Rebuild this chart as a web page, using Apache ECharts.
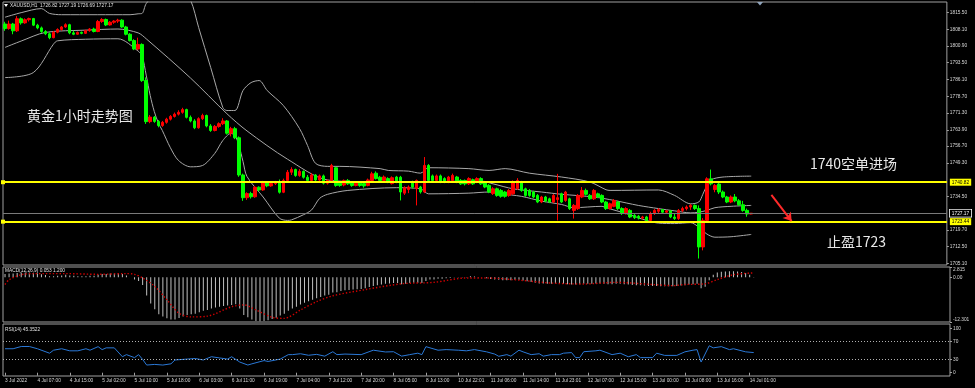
<!DOCTYPE html>
<html><head><meta charset="utf-8">
<script src="https://cdn.jsdelivr.net/npm/echarts@6/dist/echarts.min.js"></script>
<style>html,body{margin:0;padding:0;background:#000;}#c{width:975px;height:388px;}</style>
</head><body><div id="c"></div>
<script>
// ---- data ----
const opens = [1810.5,1808.5,1810.5,1807.5,1812.8,1811.0,1812.4,1812.9,1810.0,1808.8,
1807.2,1806.2,1804.5,1806.9,1808.1,1809.2,1810.2,1806.6,1806.0,1806.8,
1806.4,1807.6,1808.3,1807.2,1811.6,1812.5,1810.1,1811.3,1811.8,1812.2,
1809.2,1806.0,1803.2,1799.5,1801.5,1785.6,1767.5,1769.5,1767.6,1765.8,
1767.2,1768.6,1769.8,1770.8,1771.6,1772.8,1769.4,1767.8,1764.8,1768.8,
1770.2,1765.6,1763.6,1765.4,1766.6,1767.8,1762.4,1764.4,1760.4,1744.0,
1734.0,1735.8,1734.4,1738.6,1737.4,1740.6,1739.2,1740.2,1740.8,1736.4,
1741.6,1745.2,1746.4,1743.8,1745.6,1743.0,1741.6,1744.0,1741.8,1743.6,
1740.4,1741.6,1747.2,1740.4,1739.6,1741.6,1740.6,1739.4,1740.4,1740.2,
1739.4,1741.6,1744.8,1743.0,1741.6,1742.4,1740.2,1743.1,1743.0,1736.0,
1737.6,1740.9,1738.0,1738.7,1736.5,1748.2,1743.6,1741.6,1743.6,1742.4,
1740.9,1741.6,1743.1,1741.6,1741.6,1740.1,1741.9,1740.9,1742.4,1740.9,
1739.4,1735.8,1737.9,1737.2,1736.5,1735.0,1735.7,1738.0,1740.9,1737.9,
1737.2,1736.5,1735.0,1732.1,1734.3,1733.5,1732.1,1733.2,1735.7,1732.8,
1733.5,1728.4,1729.2,1734.3,1737.2,1735.0,1733.5,1735.7,1735.0,1732.1,
1729.2,1730.2,1732.1,1729.2,1727.0,1728.4,1726.2,1725.8,1725.0,1725.5,
1724.0,1727.0,1728.0,1728.8,1727.6,1728.2,1725.5,1724.8,1728.4,1729.2,
1729.9,1730.6,1729.2,1712.3,1724.0,1742.3,1737.6,1740.0,1736.5,1734.3,
1732.1,1734.3,1732.6,1730.9,1728.4,1726.82];
const highs = [1811.5,1812.0,1811.0,1814.0,1813.4,1813.0,1813.3,1813.2,1810.6,1809.4,
1807.8,1806.8,1807.4,1808.6,1809.6,1810.8,1810.6,1807.6,1807.2,1807.2,
1808.0,1808.7,1808.9,1812.3,1813.1,1812.9,1811.8,1812.2,1812.8,1812.6,
1809.7,1806.5,1803.8,1804.5,1802.0,1787.0,1770.4,1770.0,1768.2,1767.8,
1769.2,1770.4,1771.5,1772.5,1773.6,1773.2,1770.2,1768.6,1769.4,1771.0,
1770.6,1766.4,1766.0,1767.2,1769.0,1768.2,1765.2,1765.2,1761.0,1744.6,
1736.4,1736.6,1739.2,1739.0,1741.4,1741.0,1740.8,1741.4,1742.0,1742.4,
1746.2,1747.4,1746.8,1746.6,1746.0,1744.0,1744.8,1744.4,1744.2,1744.2,
1742.0,1748.9,1747.6,1741.0,1742.0,1742.2,1741.2,1741.0,1741.0,1740.8,
1742.4,1745.4,1745.6,1743.6,1743.8,1743.0,1743.4,1743.6,1743.6,1739.0,
1739.4,1741.5,1742.0,1739.2,1751.9,1748.8,1744.2,1744.2,1744.2,1743.0,
1743.6,1744.6,1743.6,1742.2,1742.0,1743.0,1742.4,1743.0,1743.0,1741.4,
1740.0,1738.6,1738.4,1737.8,1737.0,1737.8,1741.6,1742.6,1741.4,1738.4,
1737.8,1737.0,1735.6,1734.8,1734.8,1734.0,1735.6,1744.5,1736.2,1737.0,
1734.0,1731.2,1735.6,1738.7,1738.0,1735.6,1737.8,1736.2,1735.5,1732.6,
1731.8,1733.4,1732.6,1729.8,1729.8,1729.0,1726.8,1726.4,1726.0,1726.0,
1727.8,1729.0,1729.4,1729.0,1728.6,1728.6,1726.8,1729.0,1730.0,1730.6,
1731.2,1731.0,1730.6,1725.0,1743.0,1746.4,1740.0,1740.6,1737.2,1734.8,
1735.0,1735.6,1733.4,1732.6,1729.2,1727.19];
const lows = [1807.5,1808.0,1806.0,1807.0,1810.2,1810.6,1811.6,1809.6,1808.2,1806.6,
1805.6,1803.8,1804.2,1806.4,1807.6,1808.8,1806.0,1805.6,1805.8,1806.0,
1806.1,1807.1,1806.8,1806.9,1811.0,1809.6,1809.8,1810.6,1811.0,1808.8,
1805.5,1802.8,1799.0,1799.0,1785.0,1766.5,1766.8,1767.0,1765.0,1765.2,
1766.6,1768.0,1769.3,1770.2,1771.0,1768.9,1767.2,1764.2,1764.4,1768.2,
1765.0,1763.0,1763.2,1764.8,1766.0,1761.8,1761.0,1759.8,1743.2,1732.6,
1733.0,1733.6,1734.0,1736.8,1737.0,1738.6,1738.8,1739.6,1735.8,1736.0,
1741.0,1744.0,1743.2,1743.2,1742.4,1741.0,1741.2,1741.2,1741.4,1739.8,
1739.8,1741.0,1738.8,1738.8,1739.0,1739.6,1738.8,1739.0,1738.8,1738.4,
1739.0,1741.2,1742.0,1741.0,1741.2,1740.4,1739.8,1740.4,1732.8,1735.2,
1736.0,1738.0,1730.6,1735.8,1736.0,1741.0,1741.0,1741.0,1740.4,1740.4,
1740.4,1741.2,1740.4,1739.6,1739.4,1739.6,1739.6,1740.4,1739.6,1738.2,
1736.0,1735.2,1734.4,1734.0,1734.0,1734.4,1735.2,1737.4,1736.6,1734.4,
1734.4,1733.8,1731.6,1731.6,1732.0,1731.6,1731.6,1724.0,1731.6,1732.2,
1728.6,1724.8,1728.6,1733.8,1735.0,1733.0,1733.0,1733.8,1731.6,1728.6,
1728.8,1729.8,1728.6,1726.4,1726.6,1725.0,1724.6,1724.4,1724.4,1723.4,
1723.4,1726.4,1727.0,1727.0,1727.0,1725.0,1724.2,1724.2,1727.6,1728.4,
1728.6,1728.6,1707.2,1710.8,1723.4,1739.4,1736.4,1735.6,1733.8,1731.6,
1731.6,1732.0,1730.4,1727.8,1725.6,1726.69];
const closes = [1808.5,1810.5,1807.5,1812.8,1811.0,1812.4,1812.9,1810.0,1808.8,1807.2,
1806.2,1804.5,1806.9,1808.1,1809.2,1810.2,1806.6,1806.0,1806.8,1806.4,
1807.6,1808.3,1807.2,1811.6,1812.5,1810.1,1811.3,1811.8,1812.2,1809.2,
1806.0,1803.2,1799.5,1801.5,1785.6,1767.5,1769.5,1767.6,1765.8,1767.2,
1768.6,1769.8,1770.8,1771.6,1772.8,1769.4,1767.8,1764.8,1768.8,1770.2,
1765.6,1763.6,1765.4,1766.6,1767.8,1762.4,1764.4,1760.4,1744.0,1734.0,
1735.8,1734.4,1738.6,1737.4,1740.6,1739.2,1740.2,1740.8,1736.4,1741.6,
1745.2,1746.4,1743.8,1745.6,1743.0,1741.6,1744.0,1741.8,1743.6,1740.4,
1741.6,1748.2,1739.4,1739.4,1741.6,1740.1,1739.4,1740.4,1739.4,1739.2,
1741.8,1744.5,1742.4,1741.6,1743.1,1741.0,1742.8,1740.9,1736.5,1738.4,
1738.7,1738.7,1741.6,1736.5,1748.2,1741.6,1741.6,1743.6,1740.9,1740.9,
1743.1,1743.8,1740.9,1740.1,1740.1,1742.4,1740.1,1742.4,1740.1,1738.7,
1736.5,1737.9,1735.0,1734.6,1734.6,1737.2,1740.9,1741.6,1737.2,1735.0,
1735.0,1734.3,1732.1,1734.3,1732.5,1732.1,1735.0,1734.0,1732.1,1736.5,
1729.2,1730.6,1735.0,1737.2,1735.5,1733.5,1737.2,1734.3,1732.1,1729.2,
1731.3,1732.8,1729.2,1727.0,1729.2,1725.5,1725.2,1725.0,1725.5,1724.0,
1727.0,1728.4,1728.8,1727.6,1728.2,1725.5,1724.8,1728.4,1729.2,1729.9,
1730.6,1729.2,1712.3,1724.0,1742.3,1740.1,1739.4,1736.5,1734.3,1732.1,
1734.3,1732.6,1730.9,1728.4,1726.8,1727.17];

const bbUpper = [[0,1813.5],[4,1815.5],[9,1817.3],[11,1815.2],[14,1814.6],[23,1814.6],[31,1814.6],[33,1815.0],[34,1815.2],[35,1819.5],[37,1823],[41,1826],[44,1824.5],[46,1821],[48,1809],[51,1791.3],[54,1773.7],[55,1772.4],[57,1772.4],[59,1781.2],[61,1784.7],[63,1785.6],[65,1781.2],[69,1774.6],[73,1764.5],[75,1757],[77,1749.1],[80,1747.8],[83,1747.8],[93,1746.8],[95,1746],[100,1745.7],[103,1744.8],[105,1747.2],[115,1746.8],[120,1746],[124,1746.8],[130,1744.8],[138,1743.1],[145,1740.9],[149,1737.5],[150,1737.2],[162,1737.4],[166,1735],[170,1731.3],[172,1732.1],[173,1735.5],[174,1739.4],[175,1741.9],[178,1743.1],[185,1743.5]];
const bbMiddle = [[0,1800.2],[4,1803],[10,1806.8],[20,1807.8],[28,1808.3],[33,1806.6],[35,1804],[46,1786.7],[55,1771],[60,1763.4],[70,1751],[80,1741.8],[90,1741],[100,1740.9],[110,1741.2],[118,1741.3],[121,1740.1],[126,1737.9],[133,1736.5],[138,1735.5],[146,1734.3],[151,1732.8],[157,1730.6],[162,1729.2],[166,1728.2],[170,1727.3],[172,1727.6],[174,1728.4],[176,1729.6],[180,1730.2],[185,1730.6]];
const bbLower = [[0,1786.9],[7,1789.1],[12,1801.6],[13,1803.1],[20,1803.8],[28,1804],[33,1798.6],[34,1796.4],[35,1788],[36,1779],[37,1772],[38,1767],[39,1763.6],[41,1756],[43,1750.4],[46,1747.6],[49,1748.2],[52,1753.5],[54,1759.2],[56,1762.3],[57,1761.5],[58,1757],[59,1750],[60,1743.3],[64,1734.3],[68,1725],[70,1724],[71,1724.2],[74,1726.5],[76,1728.6],[78,1733.7],[80,1735.5],[85,1737.2],[97,1738.4],[103,1737.9],[105,1735.7],[115,1736],[120,1736.5],[123,1735.7],[128,1734.6],[133,1732.5],[138,1731],[141,1729.6],[148,1730.2],[149,1729.6],[154,1727],[159,1724],[162,1722.8],[166,1722.6],[170,1723],[172,1721],[174,1718],[176,1716.6],[180,1716.8],[185,1717.8]];

const macdMain = [0.9,1.0,1.0,1.2,1.3,1.3,1.3,1.2,1.0,0.8,
0.6,0.3,0.3,0.4,0.5,0.7,0.5,0.4,0.3,0.3,
0.3,0.4,0.4,0.7,0.9,0.9,1.0,1.0,1.1,0.9,
0.5,0.0,-0.6,-1.0,-2.1,-5.0,-7.2,-8.8,-10.2,-10.8,
-11.3,-11.6,-11.6,-11.2,-10.8,-10.4,-10.2,-10.0,-9.6,-9.2,
-9.0,-8.6,-8.3,-8.1,-7.9,-7.8,-7.6,-7.4,-8.6,-10.4,
-11.0,-11.6,-12.0,-12.1,-12.0,-11.8,-11.5,-11.1,-10.5,-10.0,
-9.2,-8.6,-8.1,-7.5,-7.0,-6.6,-6.2,-5.8,-5.4,-5.0,
-4.8,-4.2,-4.1,-3.8,-3.6,-3.5,-3.4,-3.3,-3.2,-3.0,
-2.7,-2.4,-2.2,-2.0,-1.8,-1.7,-1.6,-1.6,-1.9,-1.8,
-1.6,-1.5,-1.5,-1.6,-1.0,-0.6,-0.6,-0.4,-0.4,-0.3,
-0.2,-0.1,0.1,0.1,0.1,0.3,0.2,0.1,0.0,-0.3,
-0.5,-0.6,-0.7,-0.8,-0.8,-0.8,-0.7,-0.7,-0.9,-1.1,
-1.3,-1.5,-1.7,-1.7,-1.8,-1.8,-1.7,-1.8,-1.8,-1.9,
-2.0,-2.0,-1.9,-1.8,-1.8,-1.8,-1.7,-1.7,-1.8,-1.9,
-1.9,-1.8,-1.8,-1.9,-2.0,-2.1,-2.2,-2.2,-2.3,-2.4,
-2.4,-2.4,-2.5,-2.5,-2.5,-2.5,-2.4,-2.3,-2.2,-2.0,
-1.9,-1.8,-3.0,-2.6,-0.8,0.7,1.3,1.5,1.6,1.65,
1.65,1.6,1.45,1.2,0.7,0.053];
const macdSignal = [[0,-2.0],[1,-0.7],[4,0.7],[7,1.0],[15,1.0],[23,0.8],[30,1.0],[32,0.8],[34,-0.2],[37,-2.5],[40,-6.2],[43,-9.9],[46,-10.9],[50,-10.7],[56,-8.1],[59,-7.6],[62,-9.0],[66,-11.0],[69,-11.3],[73,-9.0],[77,-6.7],[81,-5.1],[89,-3.4],[98,-1.8],[106,-1.4],[114,-0.2],[119,-0.2],[127,-0.8],[135,-1.6],[143,-1.85],[151,-1.4],[160,-2.0],[165,-2.3],[168,-2.0],[173,-1.8],[176,-0.65],[180,0.7],[185,1.2]];
const rsi14 = [[0,54],[2,54],[4,59],[6,59],[8,54],[11,44],[12,50.7],[14,54],[16,49.3],[18,49.3],[20,54],[21,50.7],[23,58.7],[24,52],[25,56],[27,56],[29,36],[30,40.7],[32,34],[33,40.7],[34,30],[35,17.3],[37,18.7],[39,17.3],[41,20],[42,28.7],[45,30.7],[47,32],[49,28.7],[51,36],[53,33.3],[55,30.7],[56,36],[58,24],[60,17.3],[61,20],[64,27.3],[65,25.3],[68,30.7],[70,40.7],[71,40.7],[73,42.7],[75,39.3],[77,41.3],[79,37.3],[81,47.3],[82,40.7],[84,42],[88,40.7],[91,50.7],[94,46.7],[96,47.3],[98,37.3],[100,40.7],[102,44],[103,40.7],[104,58.7],[107,50.7],[109,52],[112,50.7],[114,49.3],[116,52],[119,47],[121,42],[122,37],[124,40.7],[125,37.3],[127,50.7],[128,47],[130,40.7],[132,42.7],[133,37.3],[135,40.7],[137,40.7],[138,44],[140,45.3],[141,34],[142,34],[143,47.3],[146,49.3],[147,50.7],[150,40.7],[152,44],[154,36],[156,40.7],[157,34],[160,34],[161,44],[163,39],[166,39],[168,47],[170,50.7],[171,52],[172,24],[174,60.7],[175,56],[177,58.7],[179,52],[180,54],[183,47],[185,45.35]];

const timeLabels = ['3 Jul 2022','4 Jul 07:00','4 Jul 15:00','5 Jul 02:00','5 Jul 10:00','5 Jul 18:00','6 Jul 03:00','6 Jul 11:00','6 Jul 19:00','7 Jul 04:00','7 Jul 12:00','7 Jul 20:00','8 Jul 05:00','8 Jul 13:00','10 Jul 22:01','11 Jul 06:00','11 Jul 14:00','11 Jul 23:01','12 Jul 07:00','12 Jul 15:00','13 Jul 00:00','13 Jul 08:00','13 Jul 16:00','14 Jul 01:00'];
const priceTicks = [1815.5,1808.1,1800.9,1793.5,1786.1,1778.7,1771.3,1763.9,1756.7,1749.3,1734.5,1719.7,1712.5,1705.1];
const macdTicks = [-12.301, 0, 2.815];
const rsiTicks = [0, 30, 70, 100];
const entryLevel = 1740.82, targetLevel = 1723.44, lastPrice = 1727.17;
const arrowFrom = [190, 1735.2], arrowTo = [195, 1723.7];
const headerText = 'XAUUSD,H1  1726.82 1727.19 1726.69 1727.17';
const macdText = 'MACD(12,26,9) 0.053 1.200';
const rsiText = 'RSI(14) 45.3522';

// ---- build ----
const SLOTS = 234;
const LABEL_STEP = 8;
const cats = Array.from({length: SLOTS}, (_, i) => String(i));
const candleData = opens.map((o, i) => [o, closes[i], lows[i], highs[i]]);
const FONT = 'Liberation Sans';
const AX = '#a0a0a0', TXT = '#d8d8d8';
const isLabelIdx = (i) => i % LABEL_STEP === 0 && (i / LABEL_STEP) < timeLabels.length;

const chart = echarts.init(document.getElementById('c'), null, {renderer: 'canvas'});
const gridBase = {left: 3, width: 947, show: true, borderColor: AX, borderWidth: 1};
const xBase = {type: 'category', data: cats, boundaryGap: true, axisLine: {show: false}, axisTick: {show: false}, axisLabel: {show: false}, splitLine: {show: false}};
const yLab = {color: TXT, fontSize: 4.8, fontFamily: FONT};

chart.setOption({
  backgroundColor: '#000',
  animation: false,
  grid: [
    Object.assign({top: 2, height: 263}, gridBase),
    Object.assign({top: 267, height: 55}, gridBase),
    Object.assign({top: 324, height: 52}, gridBase)
  ],
  xAxis: [
    Object.assign({gridIndex: 0}, xBase),
    Object.assign({gridIndex: 1}, xBase),
    Object.assign({}, xBase, {gridIndex: 2,
      axisTick: {show: true, length: 3, alignWithLabel: true, interval: (i) => isLabelIdx(i), lineStyle: {color: AX}},
      axisLabel: {show: true, interval: (i) => isLabelIdx(i), formatter: (v, i) => isLabelIdx(i) ? timeLabels[i / LABEL_STEP] : '',
        align: 'left', color: TXT, fontSize: 4.8, fontFamily: FONT, margin: 2}})
  ],
  yAxis: [
    {type: 'value', gridIndex: 0, position: 'right', min: 1704.35, max: 1820.2, splitLine: {show: false}, axisLine: {show: false},
     axisTick: {show: true, length: 2, customValues: priceTicks, lineStyle: {color: AX}},
     axisLabel: Object.assign({show: true, margin: 3, customValues: priceTicks.concat([entryLevel, targetLevel, lastPrice]),
       formatter: function (v) {
         const s = v.toFixed(2);
         if (Math.abs(v - entryLevel) < 1e-6 || Math.abs(v - targetLevel) < 1e-6) return '{y|' + s + '}';
         if (Math.abs(v - lastPrice) < 1e-6) return '{w|' + s + '}';
         return s;
       },
       rich: {
         y: {backgroundColor: '#ffff00', color: '#000', fontSize: 4.8, fontFamily: FONT, padding: [1.5, 2, 0.5, 2]},
         w: {backgroundColor: '#000', borderColor: '#ffffff', borderWidth: 0.8, color: '#fff', fontSize: 4.8, fontFamily: FONT, padding: [1.5, 2, 0.5, 2]}
       }}, yLab)},
    {type: 'value', gridIndex: 1, position: 'right', min: -12.301, max: 2.815, splitLine: {show: false}, axisLine: {show: false},
     axisTick: {show: true, length: 2, customValues: macdTicks, lineStyle: {color: AX}},
     axisLabel: Object.assign({show: true, margin: 3, customValues: macdTicks,
       formatter: function (v) {
         if (v === 0) return '0.00';
         if (v > 0) return '{t|' + v.toFixed(3) + '}';
         return '{b|' + v.toFixed(3) + '}';
       },
       rich: {t: {color: TXT, fontSize: 4.8, fontFamily: FONT, padding: [6, 0, 0, 0]},
              b: {color: TXT, fontSize: 4.8, fontFamily: FONT, padding: [0, 0, 5, 0]}}}, yLab)},
    {type: 'value', gridIndex: 2, position: 'right', min: -7.4, max: 109.7, splitLine: {show: false}, axisLine: {show: false},
     axisTick: {show: true, length: 2, customValues: rsiTicks, lineStyle: {color: AX}},
     axisLabel: Object.assign({show: true, margin: 3, customValues: rsiTicks, formatter: (v) => String(v)}, yLab)}
  ],
  series: [
    {type: 'line', xAxisIndex: 0, yAxisIndex: 0, data: bbUpper, showSymbol: false, smooth: 0.3, z: 2, silent: true,
     lineStyle: {color: '#a8a8a8', width: 1},
     markLine: {silent: true, symbol: 'none', label: {show: false}, animation: false,
       data: [{yAxis: lastPrice, lineStyle: {color: '#7a7a7a', width: 1, type: 'solid'}}]}},
    {type: 'line', xAxisIndex: 0, yAxisIndex: 0, data: bbMiddle, showSymbol: false, smooth: 0.3, z: 2, silent: true, lineStyle: {color: '#a8a8a8', width: 1}},
    {type: 'line', xAxisIndex: 0, yAxisIndex: 0, data: bbLower, showSymbol: false, smooth: 0.3, z: 2, silent: true, lineStyle: {color: '#a8a8a8', width: 1}},
    {type: 'candlestick', xAxisIndex: 0, yAxisIndex: 0, data: candleData, barWidth: 3, z: 3, silent: true,
     itemStyle: {color: '#ff0000', color0: '#00ff00', borderColor: '#ff0000', borderColor0: '#00ff00', borderWidth: 1},
     markLine: {silent: true, symbol: ['rect', 'none'], symbolSize: 4, label: {show: false}, animation: false,
       data: [
         {yAxis: entryLevel, lineStyle: {color: '#ffff00', width: 2, type: 'solid'}, itemStyle: {color: '#ffff00'}},
         {yAxis: targetLevel, lineStyle: {color: '#ffff00', width: 2, type: 'solid'}, itemStyle: {color: '#ffff00'}},
         [{coord: arrowFrom, symbol: 'none', lineStyle: {color: '#ff2a2a', width: 2, type: 'solid'}},
          {coord: arrowTo, symbol: 'arrow', symbolSize: 8, itemStyle: {color: '#ff2a2a'}}]
       ]}},
    {type: 'bar', xAxisIndex: 1, yAxisIndex: 1, data: macdMain, barWidth: 1, silent: true, itemStyle: {color: '#c0c0c0'}},
    {type: 'line', xAxisIndex: 1, yAxisIndex: 1, data: macdSignal, showSymbol: false, smooth: 0.3, silent: true,
     lineStyle: {color: '#d00000', width: 1.4, type: [1.4, 2]}},
    {type: 'line', xAxisIndex: 2, yAxisIndex: 2, data: rsi14, showSymbol: false, silent: true,
     lineStyle: {color: '#2a78d6', width: 1},
     markLine: {silent: true, symbol: 'none', label: {show: false}, animation: false,
       lineStyle: {color: '#b0b0b0', width: 1, type: [1, 2]},
       data: [{yAxis: 70}, {yAxis: 30}]}}
  ],
  graphic: [
    {type: 'polygon', shape: {points: [[4, 4], [8, 4], [6, 7]]}, style: {fill: '#ffffff'}, silent: true},
    {type: 'polygon', shape: {points: [[757, 2], [763, 2], [760, 5.5]]}, style: {fill: '#8fa4bc'}, silent: true},
    {type: 'text', x: 10, y: 5.8, silent: true, style: {text: headerText, fill: '#e0e0e0', fontSize: 4.8, fontFamily: FONT, textVerticalAlign: 'middle'}},
    {type: 'text', x: 5, y: 270.7, silent: true, style: {text: macdText, fill: '#e0e0e0', fontSize: 4.8, fontFamily: FONT, textVerticalAlign: 'middle'}},
    {type: 'text', x: 5, y: 329.3, silent: true, style: {text: rsiText, fill: '#e0e0e0', fontSize: 4.8, fontFamily: FONT, textVerticalAlign: 'middle'}},
    {type: 'text', x: 27, y: 116, silent: true, style: {text: '黄金1小时走势图', fill: '#e8e8e8', fontSize: 14, fontFamily: 'Noto Sans CJK SC', textVerticalAlign: 'middle'}},
    {type: 'text', x: 810, y: 163.5, silent: true, style: {text: '1740空单进场', fill: '#e8e8e8', fontSize: 14, fontFamily: 'Noto Sans CJK SC', textVerticalAlign: 'middle'}},
    {type: 'text', x: 827, y: 241.7, silent: true, style: {text: '止盈1723', fill: '#e8e8e8', fontSize: 14, fontFamily: 'Noto Sans CJK SC', textVerticalAlign: 'middle'}}
  ]
});
</script>
</body></html>
